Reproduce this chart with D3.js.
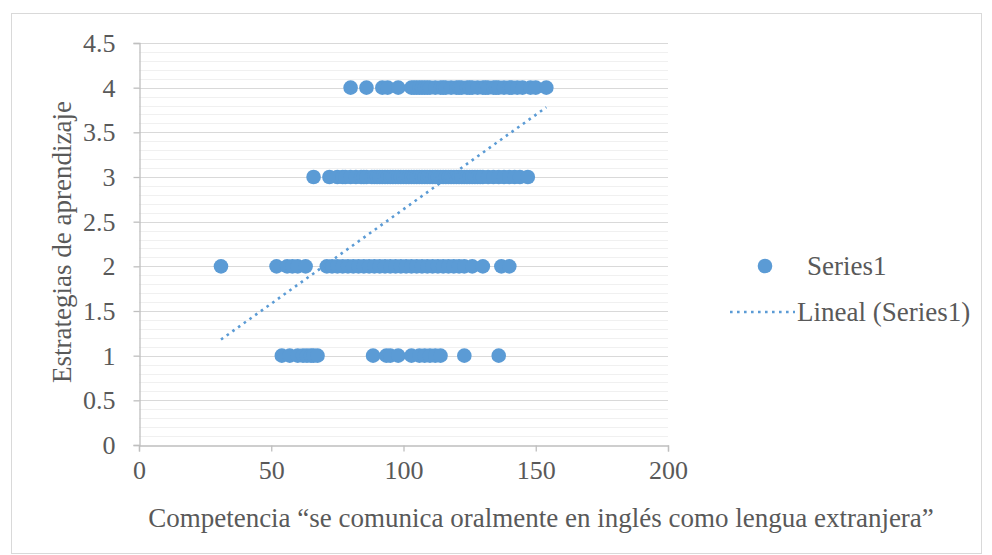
<!DOCTYPE html>
<html><head><meta charset="utf-8">
<script src="https://cdn.jsdelivr.net/npm/d3@7"></script>
<style>body{margin:0;background:#fff} svg text{font-family:"Liberation Serif","Times New Roman",Tinos,"DejaVu Serif",serif;}</style>
</head><body><svg id="c" width="992" height="555"></svg>
<script>
// Data
const row4 = [80, 86, 92, 94, 98, 103, 104, 105, 106, 107, 108, 109, 110, 112, 114, 115, 116, 118, 120, 121, 122, 124, 125, 126, 128, 130, 131, 132, 134, 135, 136, 138, 140, 141, 143, 145, 148, 150, 154];
const row3 = [66, 72, 75, 77, 78, 80, 82, 84, 85, 86, 88, 89, 90, 91, 92, 93, 94, 95, 96, 97, 98, 99, 100, 101, 102, 103, 104, 105, 106, 107, 108, 109, 110, 111, 112, 113, 114, 115, 116, 117, 118, 119, 120, 121, 122, 123, 124, 125, 126, 127, 128, 129, 130, 132, 134, 136, 138, 140, 142, 144, 147];
const row2 = [31, 52, 56, 58, 60, 63, 71, 73, 75, 77, 79, 81, 83, 85, 87, 89, 91, 93, 95, 97, 99, 101, 103, 105, 107, 109, 111, 113, 115, 117, 119, 121, 123, 126, 130, 137, 140];
const row1 = [54, 57, 60, 62, 63.5, 65, 66, 67.5, 88.5, 93.5, 95, 98, 103, 106, 108, 110, 112, 114, 123, 136];
const yLevels = [4, 3, 2, 1];
const xTicks = [0, 50, 100, 150, 200];
const yTicks = [0, 0.5, 1, 1.5, 2, 2.5, 3, 3.5, 4, 4.5];
const trendRange = [31, 154];
const trendSlope = 0.02114;
const trendIntercept = 0.525;
const seriesName = "Series1";
const trendName = "Lineal (Series1)";
const xTitle = "Competencia \u201cse comunica oralmente en ingl\u00e9s como lengua extranjera\u201d";
const yTitle = "Estrategias de aprendizaje";

const points = [];
[row4, row3, row2, row1].forEach((r, i) => r.forEach(v => points.push({x: v, y: yLevels[i]})));

const svg = d3.select("#c");
const fs = "27px";
const fsTick = "26px";
const txt = "#595959";
const blue = "#5b9bd5";

svg.append("rect").attr("x", 11.5).attr("y", 13.5).attr("width", 970).attr("height", 540)
  .attr("fill", "#fff").attr("stroke", "#d9d9d9");

const L = 139, R = 668, T = 43, B = 445;
const x = d3.scaleLinear().domain([0, 200]).range([L, R]);
const y = d3.scaleLinear().domain([0, 4.5]).range([B, T]);

// minor gridlines
const minor = d3.range(0, 4.5001, 0.1).filter(v => Math.abs(Math.round(v * 2) - v * 2) > 1e-6);
svg.append("g").selectAll("line").data(minor).join("line")
  .attr("x1", L).attr("x2", R).attr("y1", d => Math.round(y(d)) + 0.5).attr("y2", d => Math.round(y(d)) + 0.5)
  .attr("stroke", "#f0f0f0").attr("stroke-width", 1);
// major gridlines
svg.append("g").selectAll("line").data(yTicks.filter(v => v > 0)).join("line")
  .attr("x1", L).attr("x2", R).attr("y1", d => Math.round(y(d)) + 0.5).attr("y2", d => Math.round(y(d)) + 0.5)
  .attr("stroke", "#d9d9d9").attr("stroke-width", 1);

// axes
const xAxis = svg.append("g").attr("transform", `translate(0,${B + 0.5})`)
  .call(d3.axisBottom(x).tickValues(xTicks).tickSize(6).tickSizeOuter(6).tickPadding(7).tickFormat(d3.format("")));
const yAxis = svg.append("g").attr("transform", `translate(${L + 0.5},0)`)
  .call(d3.axisLeft(y).tickValues(yTicks).tickSize(6).tickSizeOuter(6).tickPadding(18).tickFormat(d => String(d)));
[xAxis, yAxis].forEach(g => {
  g.attr("font-family", null).attr("font-size", null);
  g.selectAll("path,line").attr("stroke", "#bfbfbf").attr("stroke-width", 1.3);
  g.selectAll("text").attr("fill", txt).style("font-size", fsTick);
});
yAxis.selectAll("text").attr("dy", "0.33em");
xAxis.selectAll("text").attr("dy", "0.78em");

// points
svg.append("g").selectAll("circle").data(points).join("circle")
  .attr("cx", d => x(d.x)).attr("cy", d => y(d.y)).attr("r", 7.3).attr("fill", blue);

// trend line
svg.append("line")
  .attr("x1", x(trendRange[0])).attr("y1", y(trendIntercept + trendSlope * trendRange[0]))
  .attr("x2", x(trendRange[1])).attr("y2", y(trendIntercept + trendSlope * trendRange[1]))
  .attr("stroke", blue).attr("stroke-width", 2.6).attr("stroke-dasharray", "2.6,4.4");

// titles
svg.append("text").attr("x", 541).attr("y", 527).attr("text-anchor", "middle")
  .attr("fill", txt).style("font-size", fs).text(xTitle);
svg.append("text").attr("transform", `translate(71,242) rotate(-90)`).attr("text-anchor", "middle")
  .attr("fill", txt).style("font-size", fs).text(yTitle);

// legend
const lg = svg.append("g");
lg.append("circle").attr("cx", 765).attr("cy", 266).attr("r", 7.3).attr("fill", blue);
lg.append("text").attr("x", 807).attr("y", 275).attr("fill", txt).style("font-size", fs).text(seriesName);
lg.append("line").attr("x1", 730).attr("x2", 795).attr("y1", 312).attr("y2", 312)
  .attr("stroke", blue).attr("stroke-width", 2.6).attr("stroke-dasharray", "2.6,4.4");
lg.append("text").attr("x", 797).attr("y", 321).attr("fill", txt).style("font-size", fs).text(trendName);
</script></body></html>
